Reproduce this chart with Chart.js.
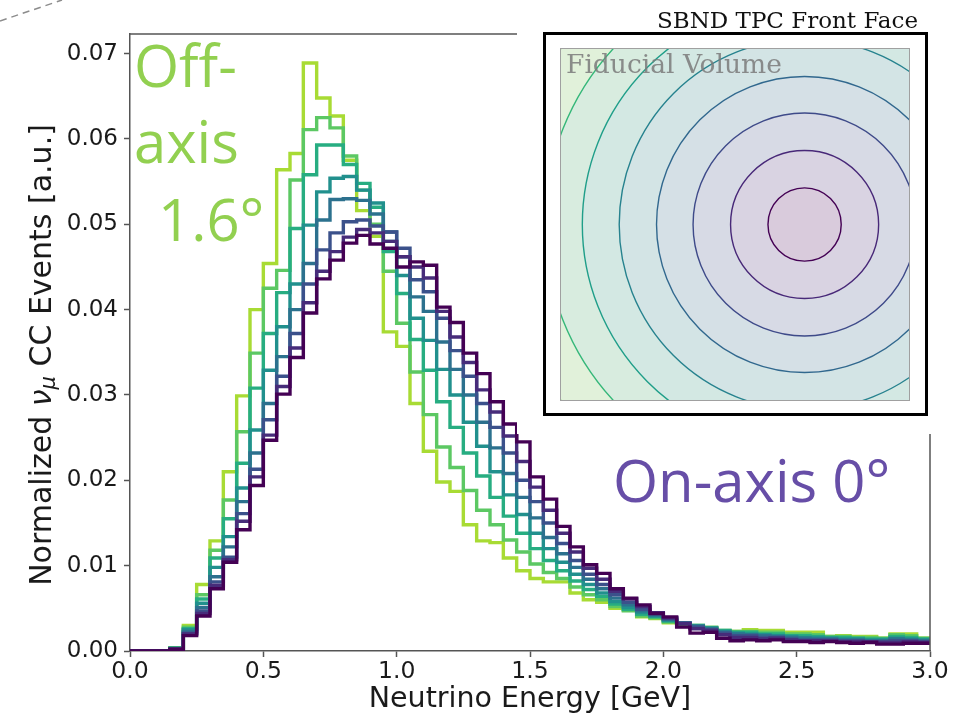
<!DOCTYPE html>
<html>
<head>
<meta charset="utf-8">
<script src="https://cdn.jsdelivr.net/npm/chart.js@4.4.1/dist/chart.umd.min.js"></script>
<style>
  html, body { margin: 0; padding: 0; background: #fff; }
  #page { position: relative; width: 976px; height: 721px; overflow: hidden; }
  #mainWrap { position: absolute; left: 0; top: 0; width: 976px; height: 721px; }
  #cover { position: absolute; left: 517px; top: 0; width: 459px; height: 434px; background: #fff; }
  #insetBox { position: absolute; left: 543px; top: 32px; width: 385px; height: 384px; border: 3px solid #000; box-sizing: border-box; background: #fff; }
  #insetWrap { position: absolute; left: 560px; top: 48px; width: 350px; height: 353px; box-sizing: border-box; border: 1px solid #a0a0a0; background: #eff5d5; }
  #notes { position: absolute; left: 0; top: 0; }
</style>
</head>
<body>
<div id="page">
  <div id="mainWrap"><canvas id="spectra"></canvas></div>
  <div id="cover"></div>
  <div id="insetBox"></div>
  <div id="insetWrap"><canvas id="frontFace"></canvas></div>
  <svg id="notes" width="976" height="721">
    <line x1="0" y1="21" x2="62" y2="0" stroke="#8c8c8c" stroke-width="1.5" stroke-dasharray="7 5"/>
    <text x="134" y="87" font-family="Open Sans" font-size="58" fill="#92d050">Off-</text>
    <text x="134" y="163" font-family="Open Sans" font-size="58" fill="#92d050">axis</text>
    <text x="158" y="241" font-family="Open Sans" font-size="58" fill="#92d050">1.6°</text>
    <text x="613" y="502" font-family="Open Sans" font-size="58" fill="#674ea7">On-axis 0°</text>
    <text x="657" y="28" font-family="DejaVu Serif" font-size="23" fill="#111">SBND TPC Front Face</text>
    <text x="566" y="73" font-family="DejaVu Serif" font-size="26.5" fill="#7a7a7a" fill-opacity="0.85">Fiducial Volume</text>
  </svg>
</div>
<script>
// ---- histogram data: normalised numu CC events per 0.05 GeV bin, one array per off-axis band ----
const binEdges = Array.from({ length: 61 }, (_, i) => +(i * 0.05).toFixed(2));

const band00to02 = [0, 0, 0, 0.0002, 0.0018, 0.0041, 0.0073, 0.0104, 0.0142, 0.0194,
  0.0247, 0.0301, 0.0344, 0.0396, 0.0436, 0.0458, 0.0478, 0.0487, 0.0477, 0.0472,
  0.0450, 0.0456, 0.0452, 0.0403, 0.0385, 0.0349, 0.0325, 0.0292, 0.0266, 0.0245,
  0.0204, 0.0178, 0.0146, 0.0122, 0.0101, 0.0091, 0.0073, 0.0062, 0.0054, 0.0044,
  0.0040, 0.0028, 0.0021, 0.0022, 0.0015, 0.0012, 0.0013, 0.0012, 0.0013, 0.0011,
  0.0011, 0.0010, 0.0011, 0.0010, 0.0009, 0.0010, 0.0008, 0.0008, 0.0009, 0.0009];
const band02to04 = [0, 0, 0, 0.0002, 0.0020, 0.0044, 0.0077, 0.0107, 0.0152, 0.0204,
  0.0253, 0.0310, 0.0355, 0.0408, 0.0445, 0.0468, 0.0485, 0.0494, 0.0490, 0.0480,
  0.0462, 0.0450, 0.0437, 0.0398, 0.0368, 0.0338, 0.0306, 0.0280, 0.0252, 0.0222,
  0.0192, 0.0165, 0.0138, 0.0116, 0.0097, 0.0084, 0.0070, 0.0061, 0.0052, 0.0045,
  0.0039, 0.0032, 0.0026, 0.0024, 0.0019, 0.0016, 0.0016, 0.0014, 0.0015, 0.0013,
  0.0012, 0.0012, 0.0012, 0.0011, 0.0011, 0.0011, 0.0010, 0.0010, 0.0011, 0.0010];
const band04to06 = [0, 0, 0, 0.0002, 0.0021, 0.0047, 0.0081, 0.0110, 0.0161, 0.0213,
  0.0271, 0.0322, 0.0372, 0.0430, 0.0470, 0.0490, 0.0503, 0.0505, 0.0498, 0.0491,
  0.0472, 0.0435, 0.0421, 0.0390, 0.0352, 0.0322, 0.0290, 0.0262, 0.0232, 0.0200,
  0.0175, 0.0150, 0.0126, 0.0106, 0.0090, 0.0078, 0.0066, 0.0057, 0.0049, 0.0044,
  0.0038, 0.0033, 0.0028, 0.0025, 0.0021, 0.0018, 0.0018, 0.0016, 0.0016, 0.0014,
  0.0013, 0.0013, 0.0013, 0.0012, 0.0012, 0.0011, 0.0011, 0.0012, 0.0012, 0.0011];
const band06to08 = [0, 0, 0, 0.0003, 0.0023, 0.0051, 0.0087, 0.0122, 0.0175, 0.0232,
  0.0290, 0.0345, 0.0400, 0.0454, 0.0505, 0.0529, 0.0530, 0.0528, 0.0512, 0.0491,
  0.0462, 0.0415, 0.0398, 0.0362, 0.0330, 0.0300, 0.0268, 0.0238, 0.0208, 0.0180,
  0.0156, 0.0133, 0.0114, 0.0098, 0.0084, 0.0073, 0.0062, 0.0054, 0.0047, 0.0042,
  0.0037, 0.0033, 0.0029, 0.0026, 0.0022, 0.0020, 0.0019, 0.0018, 0.0017, 0.0016,
  0.0015, 0.0014, 0.0014, 0.0013, 0.0013, 0.0012, 0.0012, 0.0014, 0.0013, 0.0012];
const band08to10 = [0, 0, 0, 0.0003, 0.0025, 0.0056, 0.0098, 0.0134, 0.0191, 0.0259,
  0.0329, 0.0380, 0.0430, 0.0499, 0.0538, 0.0554, 0.0556, 0.0540, 0.0525, 0.0480,
  0.0440, 0.0390, 0.0364, 0.0330, 0.0300, 0.0268, 0.0240, 0.0210, 0.0183, 0.0160,
  0.0138, 0.0120, 0.0104, 0.0090, 0.0078, 0.0068, 0.0058, 0.0051, 0.0045, 0.0041,
  0.0036, 0.0033, 0.0029, 0.0027, 0.0023, 0.0021, 0.0020, 0.0019, 0.0018, 0.0017,
  0.0016, 0.0016, 0.0015, 0.0014, 0.0014, 0.0013, 0.0013, 0.0015, 0.0014, 0.0013];
const band10to12 = [0, 0, 0, 0.0003, 0.0026, 0.0061, 0.0109, 0.0155, 0.0220, 0.0308,
  0.0372, 0.0420, 0.0495, 0.0558, 0.0593, 0.0593, 0.0570, 0.0548, 0.0520, 0.0468,
  0.0419, 0.0365, 0.0329, 0.0292, 0.0262, 0.0232, 0.0205, 0.0180, 0.0158, 0.0138,
  0.0120, 0.0106, 0.0094, 0.0082, 0.0072, 0.0064, 0.0055, 0.0049, 0.0043, 0.0040,
  0.0035, 0.0032, 0.0030, 0.0027, 0.0024, 0.0022, 0.0022, 0.0020, 0.0020, 0.0018,
  0.0018, 0.0017, 0.0016, 0.0016, 0.0015, 0.0014, 0.0014, 0.0017, 0.0016, 0.0014];
const band12to14 = [0, 0, 0, 0.0004, 0.0028, 0.0066, 0.0118, 0.0177, 0.0257, 0.0349,
  0.0425, 0.0446, 0.0552, 0.0611, 0.0625, 0.0613, 0.0580, 0.0540, 0.0500, 0.0445,
  0.0384, 0.0327, 0.0277, 0.0239, 0.0215, 0.0188, 0.0165, 0.0148, 0.0130, 0.0116,
  0.0102, 0.0092, 0.0085, 0.0075, 0.0066, 0.0060, 0.0052, 0.0047, 0.0041, 0.0039,
  0.0034, 0.0032, 0.0030, 0.0028, 0.0024, 0.0023, 0.0023, 0.0022, 0.0022, 0.0020,
  0.0020, 0.0019, 0.0017, 0.0017, 0.0016, 0.0016, 0.0015, 0.0019, 0.0018, 0.0015];
const band14to16 = [0, 0, 0, 0.0004, 0.0030, 0.0078, 0.0129, 0.0210, 0.0299, 0.0400,
  0.0454, 0.0564, 0.0583, 0.0689, 0.0648, 0.0627, 0.0575, 0.0516, 0.0486, 0.0374,
  0.0357, 0.0290, 0.0234, 0.0198, 0.0187, 0.0148, 0.0129, 0.0127, 0.0109, 0.0094,
  0.0085, 0.0081, 0.0081, 0.0068, 0.0060, 0.0057, 0.0050, 0.0048, 0.0040, 0.0038,
  0.0033, 0.0031, 0.0029, 0.0027, 0.0023, 0.0023, 0.0025, 0.0024, 0.0024, 0.0022,
  0.0022, 0.0022, 0.0017, 0.0018, 0.0017, 0.0017, 0.0015, 0.0020, 0.0020, 0.0015];

// on-axis first so it ends up drawn on top
const bands = [band00to02, band02to04, band04to06, band06to08, band08to10, band10to12, band12to14, band14to16];
const bandLabels = ['0.0-0.2°', '0.2-0.4°', '0.4-0.6°', '0.6-0.8°', '0.8-1.0°', '1.0-1.2°', '1.2-1.4°', '1.4-1.6°'];
const bandColors = ['#440154', '#472c7a', '#3b518b', '#2c718e', '#21908d', '#27ad81', '#5cc863', '#a8db34'];

const xTicks = [0, 0.5, 1.0, 1.5, 2.0, 2.5, 3.0];
const yTicks = [0, 0.01, 0.02, 0.03, 0.04, 0.05, 0.06, 0.07];

// ---- inset: front face contours (metres, beam centre offset in x) ----
const beamX = 0.80, beamY = 0.0;
const contourRadii = [0.421, 0.851, 1.282, 1.702, 2.131, 2.555, 2.987, 3.454];
const contourLine = ['#440154', '#482878', '#3e4a89', '#31688e', '#26828e', '#1f9e89', '#35b779', '#6ece58'];
const contourFill = ['#d9cbdc', '#d9d3e2', '#d7dae5', '#d5e0e6', '#d3e4e5', '#d3e8e3', '#d8ecdf', '#e1f1da'];

/* ---------- main histogram ---------- */
const frame = {
  id: 'frame',
  afterDatasetsDraw(chart) {
    const { ctx, chartArea: a } = chart;
    ctx.save();
    ctx.strokeStyle = '#555';
    ctx.lineWidth = 1.5;
    ctx.beginPath();
    ctx.moveTo(a.left, a.top); ctx.lineTo(a.right, a.top); ctx.lineTo(a.right, a.bottom);
    ctx.stroke();
    ctx.restore();
  }
};

// y title with italic nu and subscript mu
const yTitle = {
  id: 'yTitle',
  afterDraw(chart) {
    const { ctx } = chart;
    const size = 30;
    const parts = [
      { t: 'Normalized ', f: `${size}px "DejaVu Sans"`, dy: 0 },
      { t: 'ν', f: `italic ${size}px "DejaVu Sans"`, dy: 0 },
      { t: 'μ', f: `italic ${size * 0.7}px "DejaVu Sans"`, dy: size * 0.22 },
      { t: ' CC Events [a.u.]', f: `${size}px "DejaVu Sans"`, dy: 0 }
    ];
    ctx.save();
    let total = 0;
    parts.forEach(p => { ctx.font = p.f; p.w = ctx.measureText(p.t).width; total += p.w; });
    ctx.translate(43, 355);
    ctx.rotate(-Math.PI / 2);
    ctx.fillStyle = '#1a1a1a';
    ctx.textBaseline = 'middle';
    ctx.textAlign = 'left';
    let x = -total / 2;
    parts.forEach(p => { ctx.font = p.f; ctx.fillText(p.t, x, p.dy); x += p.w; });
    ctx.restore();
  }
};

new Chart(document.getElementById('spectra'), {
  type: 'line',
  data: {
    datasets: bands.map((vals, i) => ({
      label: bandLabels[i],
      data: binEdges.map((x, j) => ({ x, y: vals[Math.max(j - 1, 0)] })),
      borderColor: bandColors[i],
      borderWidth: 3.4,
      pointRadius: 0,
      stepped: 'after',
      fill: false
    }))
  },
  options: {
    responsive: true,
    maintainAspectRatio: false,
    animation: false,
    layout: { padding: { top: 34, right: 46, left: 0, bottom: 0 } },
    plugins: { legend: { display: false }, tooltip: { enabled: false } },
    scales: {
      x: {
        type: 'linear', min: 0, max: 3,
        afterFit: s => { s.height = 70; },
        afterBuildTicks: s => { s.ticks = xTicks.map(v => ({ value: v })); },
        ticks: { callback: v => v.toFixed(1), font: { family: 'DejaVu Sans', size: 23.5 }, color: '#1a1a1a', padding: 1, maxRotation: 0 },
        grid: { drawOnChartArea: false, tickLength: 6, tickColor: '#555', tickWidth: 1.5 },
        border: { color: '#555', width: 1.5 },
        title: { display: true, text: 'Neutrino Energy [GeV]', font: { family: 'DejaVu Sans', size: 28.5 }, color: '#1a1a1a', padding: { top: 0, bottom: 4 } }
      },
      y: {
        type: 'linear', min: 0, max: 0.0723,
        afterFit: s => { s.width = 130; },
        afterBuildTicks: s => { s.ticks = yTicks.map(v => ({ value: v })); },
        ticks: { callback: v => v.toFixed(2), font: { family: 'DejaVu Sans', size: 23 }, color: '#1a1a1a', padding: 6 },
        grid: { drawOnChartArea: false, tickLength: 6, tickColor: '#555', tickWidth: 1.5 },
        border: { color: '#555', width: 1.5 }
      }
    }
  },
  plugins: [frame, yTitle]
});

/* ---------- inset: TPC front face, one filled circle per contour ---------- */
new Chart(document.getElementById('frontFace'), {
  type: 'scatter',
  data: {
    datasets: contourRadii.map((r, i) => ({
      data: [{ x: beamX, y: beamY }],
      pointBackgroundColor: contourFill[i],
      pointBorderColor: contourLine[i],
      pointBorderWidth: 1.4,
      pointHoverRadius: 0,
      clip: 0,
      pointRadius: ctx => {
        const s = ctx.chart.scales.x;
        const px = Math.abs(s.getPixelForValue(beamX + r) - s.getPixelForValue(beamX));
        return isFinite(px) ? px : 0;
      }
    }))
  },
  options: {
    responsive: true,
    maintainAspectRatio: false,
    animation: false,
    layout: { padding: 0 },
    plugins: { legend: { display: false }, tooltip: { enabled: false } },
    scales: {
      x: { type: 'linear', min: -2, max: 2, display: false },
      y: { type: 'linear', min: -2, max: 2, display: false }
    }
  }
});
</script>
</body>
</html>
